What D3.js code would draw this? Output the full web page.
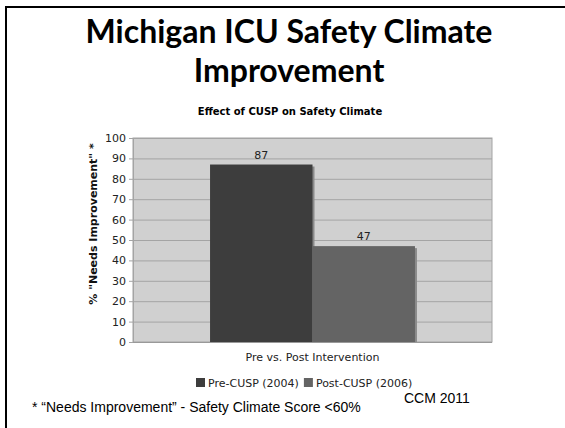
<!DOCTYPE html>
<html>
<head>
<meta charset="utf-8">
<script src="https://cdn.jsdelivr.net/npm/d3@7"></script>
<style>
body { margin: 0; background: #fff; }
svg { display: block; }
</style>
</head>
<body>
<svg width="565" height="428"></svg>
<script>
var categories = ["Pre vs. Post Intervention"];
var seriesNames = ["Pre-CUSP (2004)", "Post-CUSP (2006)"];
var seriesValues = [87, 47];
var yTicks = [0, 10, 20, 30, 40, 50, 60, 70, 80, 90, 100];

var svg = d3.select("svg"),
width = +svg.attr("width"),
height = +svg.attr("height");

var colors = ["#3d3d3d", "#646464"];

// slide border (left + top)
svg.append("path")
.attr("d", "M6,428V7H565")
.attr("fill", "none")
.attr("stroke", "#000")
.attr("stroke-width", 2);

// titles
var title = svg.append("text")
.attr("text-anchor", "middle")
.attr("font-family", "Lato, 'Open Sans', sans-serif")
.attr("font-weight", "bold")
.attr("font-size", 32)
.attr("fill", "#000");
title.append("tspan").attr("x", 289).attr("y", 43).text("Michigan ICU Safety Climate");
title.append("tspan").attr("x", 289).attr("y", 82).text("Improvement");

svg.append("text")
.attr("x", 290).attr("y", 115)
.attr("text-anchor", "middle")
.attr("font-family", "DejaVu Sans, Verdana, sans-serif")
.attr("font-weight", "bold")
.attr("font-size", 10)
.text("Effect of CUSP on Safety Climate");

var plot = { left: 133, right: 492, top: 138, bottom: 342 };

var x0 = d3.scaleBand()
.domain(categories)
.range([plot.left, plot.right])
.paddingInner(0)
.paddingOuter(0.376);

var x1 = d3.scaleBand()
.domain(seriesNames)
.range([0, x0.bandwidth()])
.padding(0);

var y = d3.scaleLinear()
.domain([0, 100])
.range([plot.bottom, plot.top]);

// plot background
svg.append("rect")
.attr("x", plot.left).attr("y", plot.top)
.attr("width", plot.right - plot.left)
.attr("height", plot.bottom - plot.top)
.attr("fill", "#d0d0d0")
.attr("stroke", "#a4a4a4")
.attr("stroke-width", 1);

// gridlines
svg.append("g")
.selectAll("line")
.data(yTicks.slice(1))
.enter().append("line")
.attr("x1", plot.left).attr("x2", plot.right)
.attr("y1", function(d) { return y(d) + 0.5; })
.attr("y2", function(d) { return y(d) + 0.5; })
.attr("stroke", "#a4a4a4")
.attr("stroke-width", 1);

// y axis
var yAxis = svg.append("g")
.attr("transform", "translate(" + plot.left + ",0)")
.call(d3.axisLeft(y).tickValues(yTicks).tickSize(4).tickPadding(3));
yAxis.select(".domain").attr("stroke", "#a4a4a4");
yAxis.selectAll(".tick line").attr("stroke", "#a4a4a4");
yAxis.selectAll("text")
.attr("font-family", "DejaVu Sans, Verdana, sans-serif")
.attr("font-size", 11)
.attr("fill", "#222");

// x baseline
svg.append("line")
.attr("x1", plot.left).attr("x2", plot.right)
.attr("y1", plot.bottom + 0.5).attr("y2", plot.bottom + 0.5)
.attr("stroke", "#999");

var bars = svg.append("g")
.selectAll("g")
.data(seriesValues)
.enter().append("g")
.attr("transform", function(d, i) { return "translate(" + (x0(categories[0]) + x1(seriesNames[i])) + ",0)"; });

// shadow
bars.append("rect")
.attr("x", 2)
.attr("y", function(d) { return y(d) + 2; })
.attr("width", x1.bandwidth())
.attr("height", function(d) { return y(0) - y(d) - 2; })
.attr("fill", "#8a8a8a");

bars.append("rect")
.attr("x", 0)
.attr("y", function(d) { return y(d); })
.attr("width", x1.bandwidth())
.attr("height", function(d) { return y(0) - y(d); })
.attr("fill", function(d, i) { return colors[i]; });

bars.append("text")
.attr("x", x1.bandwidth() / 2)
.attr("y", function(d) { return y(d) - 6; })
.attr("text-anchor", "middle")
.attr("font-family", "DejaVu Sans, Verdana, sans-serif")
.attr("font-size", 11)
.attr("fill", "#222")
.text(function(d) { return d; });

// x axis label
svg.append("text")
.attr("x", (plot.left + plot.right) / 2)
.attr("y", 361)
.attr("text-anchor", "middle")
.attr("font-family", "DejaVu Sans, Verdana, sans-serif")
.attr("font-size", 11)
.attr("fill", "#222")
.text(categories[0]);

// y axis title
svg.append("text")
.attr("transform", "translate(97,224) rotate(-90)")
.attr("text-anchor", "middle")
.attr("font-family", "DejaVu Sans, Verdana, sans-serif")
.attr("font-weight", "bold")
.attr("font-size", 11)
.attr("fill", "#111")
.text("% \"Needs Improvement\" *");

// legend
var legend = svg.append("g")
.attr("transform", "translate(196,378)");

var lx = 0;
seriesNames.forEach(function(name, i) {
	var item = legend.append("g").attr("transform", "translate(" + lx + ",0)");
	item.append("rect")
	.attr("width", 9).attr("height", 9)
	.attr("fill", colors[i]);
	var t = item.append("text")
	.attr("x", 12).attr("y", 9)
	.attr("font-family", "DejaVu Sans, Verdana, sans-serif")
	.attr("font-size", 11)
	.attr("fill", "#222")
	.text(name);
	lx += 12 + t.node().getComputedTextLength() + 5;
});

// footnotes
svg.append("text")
.attr("x", 32).attr("y", 412)
.attr("font-family", "'Liberation Sans', Arial, sans-serif")
.attr("font-size", 14)
.text("* \u201cNeeds Improvement\u201d - Safety Climate Score <60%");

svg.append("text")
.attr("x", 404).attr("y", 403)
.attr("font-family", "'Liberation Sans', Arial, sans-serif")
.attr("font-size", 14)
.text("CCM 2011");
</script>
</body>
</html>
